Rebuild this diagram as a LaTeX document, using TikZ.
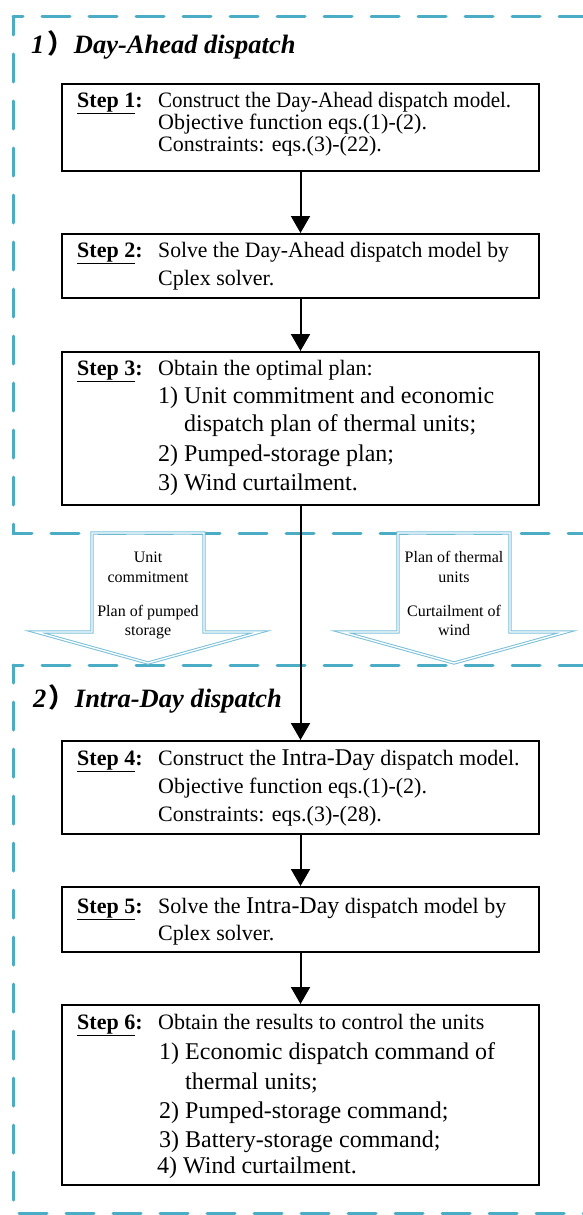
\documentclass[tikz,border=0pt]{standalone}
\usepackage{fontspec}
\usepackage{graphicx}
\setmainfont{Liberation Serif}
\newfontfamily\cjk{Noto Sans CJK SC}
\usetikzlibrary{arrows.meta}
\definecolor{frameblue}{HTML}{4BACC6}
\definecolor{arrowblue}{RGB}{122,192,218}
\newcommand{\stp}[1]{\underline{\textbf{Step #1}}\textbf{:}}
\newcommand{\hdr}{\fontsize{22}{22}\selectfont}
\newcommand{\itm}{\fontsize{24}{24}\selectfont}
\newcommand{\bigw}[1]{{\fontsize{24}{24}\selectfont #1}}
\begin{document}
\begin{tikzpicture}[x=1pt,y=-1pt,
  stepbox/.style={draw, line width=2pt, minimum width=477pt, inner sep=0pt},
  txt/.style={anchor=base west, inner sep=0pt, font=\hdr},
  itxt/.style={anchor=base west, inner sep=0pt, font=\itm},
  flow/.style={line width=2pt, -{Triangle[width=19pt,length=17pt]}},
  frame/.style={frameblue, line width=3pt, dash pattern=on 28pt off 19pt, line cap=round},
  hollow/.style={draw=arrowblue, double=white, double distance=1.3pt, line width=1pt},
  lbl/.style={anchor=base, inner sep=0pt, font=\fontsize{16}{16}\selectfont},
  ttl/.style={anchor=base west, inner sep=0pt, font=\fontsize{26.5}{26.5}\selectfont\bfseries\itshape}]
\useasboundingbox (0,0) rectangle (583,1215);

% dashed frames
\draw[frame, dash phase=18pt] (13,17) -- (600,17);
\draw[frame, dash phase=10pt] (13,17) -- (13,533) -- (600,533);
\draw[frame, dash phase=18pt] (13,665) -- (600,665);
\draw[frame, dash phase=10pt] (13,665) -- (13,1213) -- (600,1213);

% titles
\node[ttl] (t1) at (31,54) {1\hspace{3pt}{\cjk ）}Day-Ahead dispatch};
\node[ttl] (t2) at (33,707) {2\hspace{2pt}{\cjk ）}Intra-Day dispatch};

% hollow arrows
\draw[hollow] (92,533) -- (204,533) -- (204,632) -- (260,632) -- (148,663) -- (36,632) -- (92,632) -- cycle;
\draw[hollow] (398,533) -- (510,533) -- (510,632) -- (566,632) -- (454,663) -- (342,632) -- (398,632) -- cycle;
\node[lbl] (la1) at (148,562) {Unit};
\node[lbl] (la2) at (148,582) {commitment};
\node[lbl] (la3) at (148,616) {Plan of pumped};
\node[lbl] (la4) at (148,635) {storage};
\node[lbl] (lb1) at (454,562) {Plan of thermal};
\node[lbl] (lb2) at (454,582) {units};
\node[lbl] (lb3) at (454,616) {Curtailment of};
\node[lbl] (lb4) at (454,635) {wind};

% boxes
\node[stepbox, minimum height=87pt] (s1) at (300.5,127.5) {};
\node[stepbox, minimum height=64pt] (s2) at (300.5,266) {};
\node[stepbox, minimum height=153pt] (s3) at (300.5,428.5) {};
\node[stepbox, minimum height=93pt] (s4) at (300.5,787.5) {};
\node[stepbox, minimum height=65pt] (s5) at (300.5,919.5) {};
\node[stepbox, minimum height=180pt] (s6) at (300.5,1095) {};

% step 1
\node[txt] (s1a) at (77,107) {\stp{1}};
\node[txt] (s1b) at (158,107) {\scalebox{0.955}[1]{Construct the Day-Ahead dispatch model.}};
\node[txt] (s1c) at (158,129) {Objective function eqs.(1)-(2).};
\node[txt] (s1d) at (158,151) {Constraints: eqs.(3)-(22).};
% step 2
\node[txt] (s2a) at (77,257) {\stp{2}};
\node[txt] (s2b) at (158,257) {\scalebox{0.985}[1]{Solve the Day-Ahead dispatch model by}};
\node[txt] (s2c) at (158,285) {Cplex solver.};
% step 3
\node[txt] (s3a) at (77,375) {\stp{3}};
\node[txt] (s3b) at (158,375) {Obtain the optimal plan:};
\node[itxt] (s3c) at (158,403) {1) Unit commitment and economic};
\node[itxt] (s3d) at (158,431) {\phantom{1) }dispatch plan of thermal units;};
\node[itxt] (s3e) at (158,461) {2) Pumped-storage plan;};
\node[itxt] (s3f) at (158,490) {3) Wind curtailment.};
% step 4
\node[txt] (s4a) at (77,765) {\stp{4}};
\node[txt] (s4b) at (158,765) {Construct the \bigw{Intra-Day} dispatch model.};
\node[txt] (s4c) at (158,793) {Objective function eqs.(1)-(2).};
\node[txt] (s4d) at (158,821) {Constraints: eqs.(3)-(28).};
% step 5
\node[txt] (s5a) at (77,913) {\stp{5}};
\node[txt] (s5b) at (158,913) {Solve the \bigw{Intra-Day} dispatch model by};
\node[txt] (s5c) at (158,940) {Cplex solver.};
% step 6
\node[txt] (s6a) at (77,1029) {\stp{6}};
\node[txt] (s6b) at (158,1029) {Obtain the results to control the units};
\node[itxt] (s6c) at (159,1059) {1) Economic dispatch command of};
\node[itxt] (s6d) at (159,1089) {\phantom{1) }thermal units;};
\node[itxt] (s6e) at (159,1118) {2) Pumped-storage command;};
\node[itxt] (s6f) at (159,1147) {3) Battery-storage command;};
\node[itxt] (s6g) at (157,1173) {4) Wind curtailment.};

% flow arrows
\draw[flow] (s1) -- (s2);
\draw[flow] (s2) -- (s3);
\draw[flow] (s3) -- (s4);
\draw[flow] (s4) -- (s5);
\draw[flow] (s5) -- (s6);
\end{tikzpicture}
\end{document}
